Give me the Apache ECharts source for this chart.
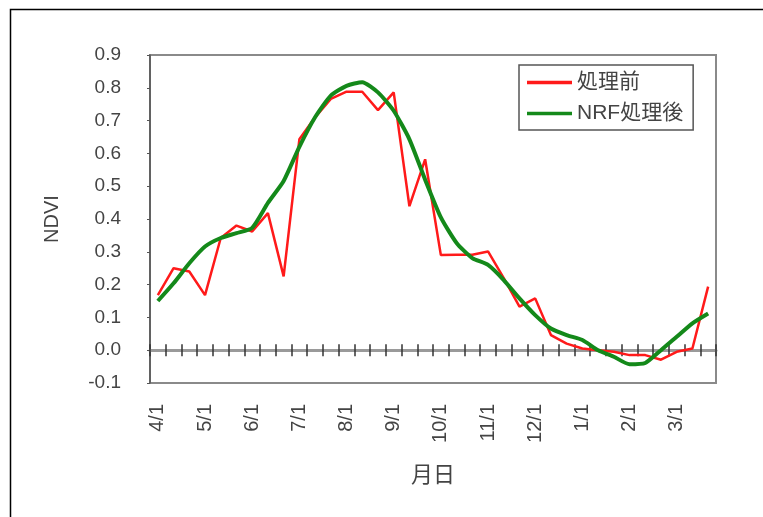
<!DOCTYPE html>
<html>
<head>
<meta charset="utf-8">
<script src="https://cdn.jsdelivr.net/npm/echarts@6/dist/echarts.min.js"></script>
<style>
html,body{margin:0;padding:0;background:#fff;}
#chart{width:763px;height:517px;}
</style>
</head>
<body>
<div id="chart"></div>
<script>
var categories = ['4/1','4/11','4/21','5/1','5/11','5/21','6/1','6/11','6/21','7/1','7/11','7/21',
  '8/1','8/11','8/21','9/1','9/11','9/21','10/1','10/11','10/21','11/1','11/11','11/21',
  '12/1','12/11','12/21','1/1','1/11','1/21','2/1','2/11','2/21','3/1','3/11','3/21'];
var rawValues = [0.168,0.25,0.24,0.168,0.342,0.38,0.362,0.418,0.225,0.643,0.71,0.766,
  0.788,0.788,0.732,0.786,0.439,0.582,0.29,0.291,0.291,0.301,0.22,0.133,
  0.158,0.046,0.02,0.005,0.0,-0.005,-0.015,-0.015,-0.029,-0.005,0.005,0.194];
var nrfValues = [0.15,0.204,0.265,0.316,0.342,0.357,0.373,0.449,0.516,0.62,0.71,0.776,
  0.806,0.817,0.786,0.73,0.643,0.52,0.405,0.327,0.281,0.26,0.214,0.158,
  0.107,0.066,0.046,0.031,0.0,-0.02,-0.043,-0.039,0.0,0.041,0.082,0.112];
var seriesNames = ['処理前','NRF処理後'];
var yMin = -0.1, yMax = 0.9, yStep = 0.1;

var FONT = '"Liberation Sans", "Noto Sans CJK JP", sans-serif';
var RED = '#ff1a1a', GREEN = '#14891a';
var chart = echarts.init(document.getElementById('chart'));
chart.setOption({
  backgroundColor: '#fff',
  animation: false,
  textStyle: {fontFamily: FONT},
  graphic: [{
    type: 'rect', left: 8, top: 7, silent: true,
    shape: {width: 900, height: 700},
    style: {fill: 'none', stroke: '#000', lineWidth: 1.5}
  }],
  grid: {left: 150, top: 55, right: 47, bottom: 134, show: true,
    borderColor: '#8a8a8a', borderWidth: 2, backgroundColor: '#fff'},
  legend: {
    orient: 'vertical', left: 519, top: 65,
    padding: [7, 10, 6, 8], itemGap: 10, itemWidth: 45, itemHeight: 3.5,
    borderColor: '#555', borderWidth: 1.5,
    textStyle: {fontSize: 21, color: '#444', fontFamily: FONT},
    data: [
      {name: seriesNames[0], icon: 'rect', itemStyle: {color: RED}},
      {name: seriesNames[1], icon: 'rect', itemStyle: {color: GREEN}}
    ]
  },
  xAxis: [{
    type: 'category', data: categories, position: 'bottom',
    boundaryGap: true,
    axisLine: {show: false, onZero: false},
    axisTick: {show: false},
    axisLabel: {interval: 2, rotate: 90, margin: 21, fontSize: 20, color: '#444', fontFamily: FONT},
    name: '月日', nameLocation: 'middle', nameGap: 82,
    nameTextStyle: {fontSize: 22, color: '#444', fontFamily: FONT}
  }, {
    type: 'category', data: categories, position: 'bottom',
    boundaryGap: true,
    axisLine: {show: true, onZero: true, onZeroAxisIndex: 0, lineStyle: {color: '#9a9a9a', width: 3}},
    axisTick: {show: true, interval: 0, inside: false, length: 6, lineStyle: {color: '#333', width: 1.5}},
    axisLabel: {show: false}
  }, {
    type: 'category', data: categories, position: 'top',
    boundaryGap: true,
    axisLine: {show: false, onZero: true, onZeroAxisIndex: 0},
    axisTick: {show: true, interval: 0, inside: false, length: 6, lineStyle: {color: '#333', width: 1.5}},
    axisLabel: {show: false}
  }],
  yAxis: {
    type: 'value', min: yMin, max: yMax, interval: yStep,
    axisLine: {show: true, onZero: false, lineStyle: {color: '#555', width: 1.5}},
    axisTick: {show: true, length: 3, lineStyle: {color: '#555'}},
    splitLine: {show: false},
    axisLabel: {margin: 29, fontSize: 19, color: '#444', fontFamily: FONT,
      formatter: function (v) { return (Math.abs(v) < 1e-9 ? 0 : v).toFixed(1); }},
    name: 'NDVI', nameLocation: 'middle', nameGap: 88, nameRotate: 90,
    nameTextStyle: {fontSize: 20, color: '#444', fontFamily: FONT}
  },
  series: [{
    name: seriesNames[0], type: 'line', xAxisIndex: 0, data: rawValues,
    symbol: 'none', lineStyle: {color: RED, width: 2.5}, itemStyle: {color: RED}, z: 3
  }, {
    name: seriesNames[1], type: 'line', xAxisIndex: 0, data: nrfValues,
    symbol: 'none', smooth: 0.2, lineStyle: {color: GREEN, width: 4}, itemStyle: {color: GREEN}, z: 4
  }]
});
</script>
</body>
</html>
